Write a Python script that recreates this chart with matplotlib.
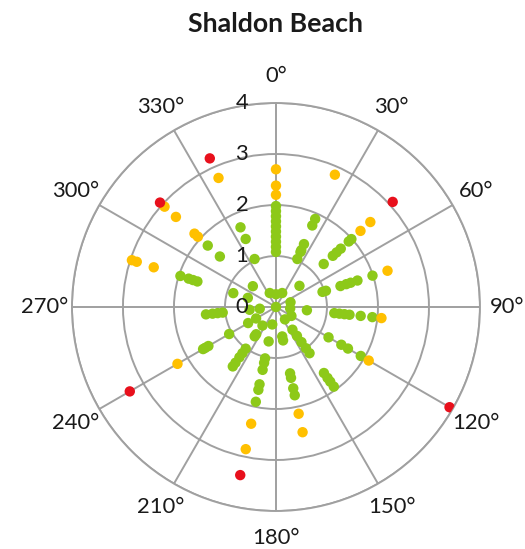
import matplotlib
matplotlib.use("Agg")
import matplotlib.pyplot as plt
import numpy as np

plt.rcParams['font.family'] = ['Lato', 'DejaVu Sans']

# bearing of each spoke (degrees, clockwise from north) and the readings on it
bearings = [0, 24, 48, 72, 96, 120, 144, 168, 192, 216, 240, 264, 288, 312, 336]
readings = [
    [0.0, 0.25, 1.08, 1.18, 1.28, 1.38, 1.48, 1.58, 1.68, 1.78, 1.88, 1.98, 2.2, 2.38, 2.7],
    [0.3, 1.03, 1.18, 1.22, 1.35, 1.75, 1.89, 2.84],
    [0.62, 1.26, 1.5, 1.6, 1.71, 1.92, 1.99, 2.23, 2.49, 3.08],
    [0.3, 0.96, 1.03, 1.33, 1.45, 1.54, 1.68, 1.99, 2.3],
    [0.28, 0.61, 1.15, 1.25, 1.35, 1.45, 1.67, 1.9, 2.08],
    [0.35, 1.19, 1.48, 1.63, 1.92, 2.1, 3.93],
    [0.3, 0.55, 0.7, 0.85, 1.0, 1.12, 1.6, 1.72, 1.81, 1.93],
    [0.59, 0.67, 1.33, 1.42, 1.63, 1.77, 2.14, 2.51],
    [0.35, 0.69, 1.03, 1.12, 1.26, 1.55, 1.66, 1.9, 2.34, 2.85, 3.37],
    [0.45, 0.66, 0.71, 1.01, 1.12, 1.22, 1.35, 1.44],
    [0.45, 0.63, 1.06, 1.53, 1.6, 1.65, 2.23, 3.31],
    [0.32, 0.52, 1.05, 1.15, 1.25, 1.38],
    [0.58, 0.88, 1.62, 1.71, 1.8, 1.97, 2.52, 2.87, 2.97],
    [0.61, 1.48, 1.8, 2.06, 2.15, 2.64, 2.94, 3.06],
    [0.3, 1.03, 1.46, 1.71, 2.77, 3.19],
]
theta_ticks = list(range(0, 360, 30))
r_ticks = [0, 1, 2, 3, 4]

GREEN, AMBER, RED = '#8dc919', '#ffc000', '#e8101c'
GRID = '#a0a0a0'


def band_colour(v):
    if v > 3:
        return RED
    if v > 2:
        return AMBER
    return GREEN


theta, r, colours = [], [], []
for b, vals in zip(bearings, readings):
    for v in vals:
        theta.append(np.deg2rad(b))
        r.append(v)
        colours.append(band_colour(v))

fig = plt.figure(figsize=(5.25, 5.49), dpi=100)
ax = fig.add_axes([0.1371, 0.0692, 0.7771, 0.7432], projection='polar')
ax.set_theta_zero_location('N')
ax.set_theta_direction(-1)
ax.set_ylim(0, 4)

ax.set_xticks(np.deg2rad(theta_ticks))
ax.set_xticklabels([])
ax.set_yticks(r_ticks[1:])
ax.set_yticklabels([])
ax.grid(True, color=GRID, lw=1.4)
ax.spines['polar'].set_color(GRID)
ax.spines['polar'].set_linewidth(1.4)
ax.tick_params(length=0)

ax.scatter(theta, r, s=56, c=colours, edgecolors='none', zorder=3)

for a in theta_ticks:
    ax.text(np.deg2rad(a), 4.53, f'{a}°', ha='center', va='center',
            fontsize=15.8, color='#1a1a1a', clip_on=False)

for v in r_ticks:
    ax.annotate(str(v), xy=(0, v), xytext=(-34, 0), textcoords='offset pixels',
                ha='center', va='center', fontsize=15.8, color='#1a1a1a',
                annotation_clip=False, zorder=4)

fig.text(0.525, 0.9417, 'Shaldon Beach', ha='center', va='baseline',
         fontsize=19.3, fontweight='bold', color='#1a1a1a')

fig.savefig('out.png', dpi=100)
